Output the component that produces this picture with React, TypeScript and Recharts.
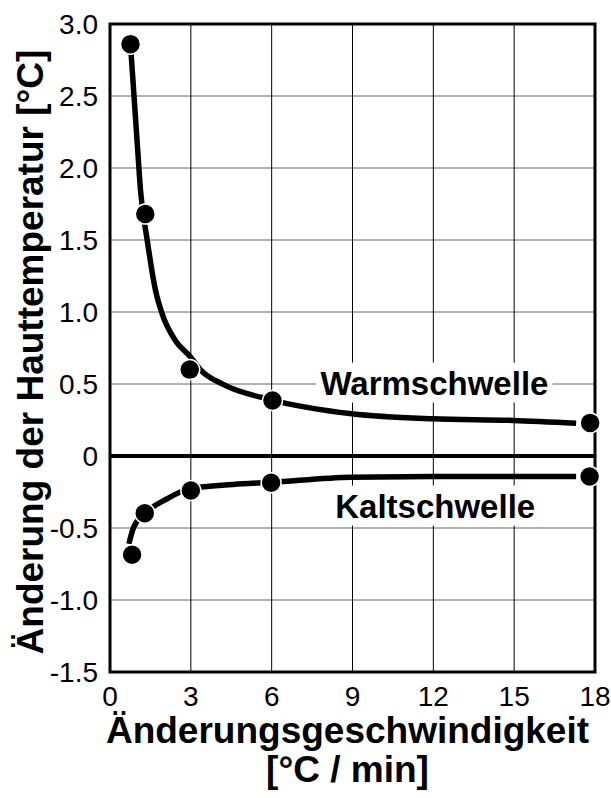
import {
  CartesianGrid,
  ComposedChart,
  Label,
  Line,
  ReferenceArea,
  ReferenceDot,
  ReferenceLine,
  Scatter,
  XAxis,
  YAxis,
} from "recharts";

const FONT = '"Liberation Sans", Arial, Helvetica, sans-serif';

const xTicks = [0, 3, 6, 9, 12, 15, 18];
const yTicks = [-1.5, -1, -0.5, 0, 0.5, 1, 1.5, 2, 2.5, 3];

// Messpunkte
const warmX = [0.76, 1.31, 2.96, 6.03, 17.82];
const warmY = [2.86, 1.68, 0.6, 0.385, 0.23];
const coldX = [0.82, 1.29, 3.0, 5.98, 17.8];
const coldY = [-0.686, -0.397, -0.24, -0.186, -0.142];

// Ausgleichskurven
const warmCurveX = [0.76, 1.03, 1.13, 1.38, 1.69, 1.93, 2.43, 2.98, 3.35, 4.2, 6.0, 8.97, 11.97, 14.96, 17.3];
const warmCurveY = [2.86, 2.12, 1.85, 1.5, 1.15, 0.99, 0.8, 0.69, 0.6, 0.497, 0.39, 0.293, 0.258, 0.247, 0.228];
const coldCurveX = [0.7, 0.88, 1.29, 2.12, 3.0, 4.57, 6.0, 8.97, 11.97, 17.3];
const coldCurveY = [-0.61, -0.494, -0.4, -0.297, -0.225, -0.198, -0.182, -0.147, -0.142, -0.142];

const zip = (xs: number[], ys: number[]) => xs.map((x, i) => ({ x, y: ys[i] }));

const warmPts = zip(warmX, warmY);
const coldPts = zip(coldX, coldY);
const warmCurve = zip(warmCurveX, warmCurveY);
const coldCurve = zip(coldCurveX, coldCurveY);

const Dot = ({ cx, cy }: any) => (
  <circle cx={cx} cy={cy} r={10} fill="#000" stroke="#fff" strokeWidth={1.5} />
);

const XTick = ({ x, y, payload }: any) => (
  <text x={x} y={y + 34} textAnchor="middle" fontSize={28} fontFamily={FONT} fill="#000">
    {payload.value}
  </text>
);

const YTick = ({ x, y, payload }: any) => (
  <text x={x - 12} y={y + 10} textAnchor="end" fontSize={28} fontFamily={FONT} fill="#000">
    {payload.value === 0 ? "0" : payload.value.toFixed(1)}
  </text>
);

const seriesLabel = (text: string, w: number) => ({ cx, cy }: any) => (
  <g>
    <rect x={cx - w / 2} y={cy - 20} width={w} height={40} fill="#fff" />
    <text x={cx} y={cy + 12} textAnchor="middle" fontSize={33} fontWeight="bold" fontFamily={FONT} fill="#000">
      {text}
    </text>
  </g>
);

export default function App() {
  return (
    <div style={{ position: "absolute", left: 0, top: 0, width: 611, height: 798, background: "#fff" }}>
      <ComposedChart width={611} height={798} margin={{ top: 24, right: 16, left: 10, bottom: 86 }}>
        <CartesianGrid vertical={false} stroke="#666" strokeWidth={1} />
        <CartesianGrid horizontal={false} stroke="#000" strokeWidth={1} />
        <XAxis
          type="number"
          dataKey="x"
          domain={[0, 18]}
          ticks={xTicks}
          interval={0}
          height={40}
          axisLine={false}
          tickLine={false}
          tickSize={0}
          tickMargin={0}
          tick={<XTick />}
        >
          <Label
            content={({ viewBox }: any) => {
              const cx = viewBox.x + viewBox.width / 2 - 5;
              return (
                <g fontFamily={FONT} fontWeight="bold" fontSize={37} fill="#000">
                  <text x={cx} y={743} textAnchor="middle">Änderungsgeschwindigkeit</text>
                  <text x={cx} y={782} textAnchor="middle">[°C / min]</text>
                </g>
              );
            }}
          />
        </XAxis>
        <YAxis
          type="number"
          domain={[-1.5, 3]}
          ticks={yTicks}
          interval={0}
          width={100}
          axisLine={false}
          tickLine={false}
          tickSize={0}
          tickMargin={0}
          tick={<YTick />}
        >
          <Label
            content={({ viewBox }: any) => {
              const x = 43;
              const y = viewBox.y + viewBox.height / 2 + 4;
              return (
                <text
                  x={x}
                  y={y}
                  transform={`rotate(-90, ${x}, ${y})`}
                  textAnchor="middle"
                  fontFamily={FONT}
                  fontWeight="bold"
                  fontSize={37}
                  fill="#000"
                >
                  Änderung der Hauttemperatur [°C]
                </text>
              );
            }}
          />
        </YAxis>
        <ReferenceArea x1={0} x2={18} y1={-1.5} y2={3} fill="none" stroke="#000" strokeWidth={3} />
        <ReferenceLine y={0} stroke="#000" strokeWidth={4} />
        <ReferenceDot x={12.04} y={0.51} r={0} shape={seriesLabel("Warmschwelle", 236)} />
        <ReferenceDot x={12.07} y={-0.344} r={0} shape={seriesLabel("Kaltschwelle", 204)} />
        <Line
          data={warmCurve}
          dataKey="y"
          type="monotone"
          stroke="#000"
          strokeWidth={5.5}
          dot={false}
          activeDot={false}
          isAnimationActive={false}
        />
        <Line
          data={coldCurve}
          dataKey="y"
          type="monotone"
          stroke="#000"
          strokeWidth={5.5}
          dot={false}
          activeDot={false}
          isAnimationActive={false}
        />
        <Scatter data={warmPts} dataKey="y" shape={<Dot />} isAnimationActive={false} />
        <Scatter data={coldPts} dataKey="y" shape={<Dot />} isAnimationActive={false} />
      </ComposedChart>
    </div>
  );
}
